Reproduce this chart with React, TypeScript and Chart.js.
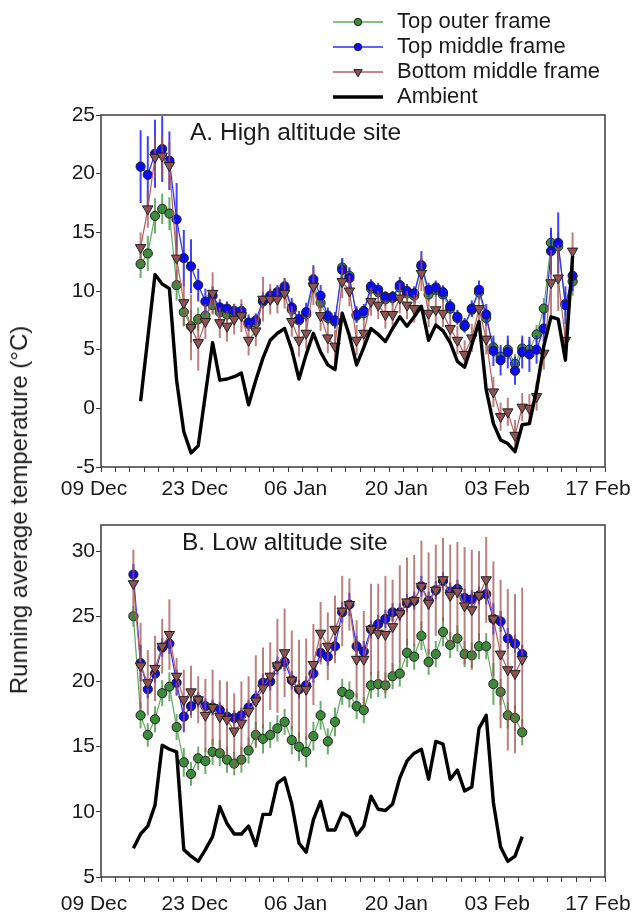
import React, { useEffect, useRef } from 'react';
import { Chart, registerables } from 'chart.js';

Chart.register(...registerables);

const FONT = 'Arial, "Liberation Sans", Helvetica, sans-serif';

// ---- x axis: days counted from 09 Dec ----
const X_TICK_LABELS = ['09 Dec', '23 Dec', '06 Jan', '20 Jan', '03 Feb', '17 Feb'];
const X_MIN = 0;
const X_MAX = 70;
const X_STEP = 2;
const X_LABEL_EVERY = 14;

const SERIES_NAMES = ['Top outer frame', 'Top middle frame', 'Bottom middle frame', 'Ambient'];
const Y_TITLE = 'Running average temperature (°C)';

// ---- Panel A: high altitude site (daily, first day = 14 Dec) ----
const A_TITLE = 'A. High altitude site';
const A_FIRST_DAY = 5.5;
const A_Y_MIN = -5;
const A_Y_MAX = 25;
const A_Y_STEP = 5;

const greenA = [12.3, 13.2, 16.4, 17.0, 16.6, 10.5, 8.2, 7.0, 7.6, 7.9, 8.8, 8.2, 8.0, 8.1, 8.0, 7.2, 7.3, 9.1, 9.4, 9.7, 10.2, 8.4, 7.5, 8.0, 10.6, 9.0, 7.7, 7.4, 12.0, 11.3, 7.9, 8.1, 10.2, 9.9, 9.3, 9.4, 10.3, 9.8, 9.6, 12.1, 9.7, 10.1, 9.7, 8.5, 7.7, 7.0, 8.4, 9.9, 7.7, 5.2, 4.4, 5.0, 3.8, 5.1, 5.0, 6.3, 8.5, 14.1, 13.8, 8.9, 10.8];
const blueA = [20.6, 19.9, 21.7, 22.1, 21.1, 16.1, 12.8, 12.1, 10.5, 9.1, 9.6, 8.6, 8.5, 8.3, 8.3, 7.3, 7.5, 9.2, 9.6, 9.9, 10.4, 8.6, 7.6, 8.2, 11.0, 9.6, 7.9, 7.5, 11.8, 11.1, 8.0, 8.3, 10.4, 10.1, 9.5, 9.5, 10.5, 10.0, 9.8, 12.2, 10.1, 10.3, 9.9, 8.7, 7.8, 7.1, 8.5, 10.1, 8.0, 4.9, 4.1, 4.8, 3.2, 4.8, 4.6, 5.0, 6.8, 13.4, 14.1, 8.8, 11.3];
const brownA = [13.7, 17.0, 21.4, 21.5, 20.7, 12.8, 9.0, 6.9, 5.6, 7.4, 9.8, 7.3, 7.0, 7.6, 7.9, 5.8, 6.6, 9.3, 9.3, 9.3, 9.8, 7.4, 5.8, 6.4, 10.4, 7.9, 6.0, 5.3, 10.8, 10.0, 5.8, 6.4, 9.1, 8.8, 8.0, 8.0, 9.4, 8.8, 8.5, 11.5, 8.1, 8.4, 8.1, 6.8, 5.8, 4.6, 6.0, 8.5, 5.9, 1.4, -0.7, -0.3, -2.3, 0.1, 0.0, 1.0, 4.7, 10.7, 11.1, 5.8, 13.4];
const ambientA = [0.6, 6.0, 11.4, 10.6, 10.2, 2.4, -2.0, -3.8, -3.2, 1.2, 5.6, 2.4, 2.5, 2.7, 3.0, 0.3, 2.4, 4.3, 5.8, 6.4, 6.8, 5.0, 2.5, 4.6, 6.4, 4.8, 3.7, 3.3, 8.1, 6.2, 3.7, 5.2, 6.8, 6.3, 5.7, 6.8, 7.8, 7.0, 7.8, 8.7, 5.8, 7.1, 6.6, 5.6, 4.0, 3.5, 5.4, 7.4, 1.6, -1.3, -2.7, -3.0, -3.7, -1.4, -1.3, 1.6, 5.3, 7.8, 7.6, 4.1, 13.0];
const greenErrA = [1.2, 1.5, 1.5, 1.3, 1.4, 1.3, 1.2, 1.4, 1.0, 0.8, 0.7, 0.6, 0.6, 0.6, 0.6, 0.6, 0.6, 0.6, 0.6, 0.6, 0.6, 0.7, 0.6, 0.6, 0.8, 0.7, 0.6, 0.6, 0.8, 0.7, 0.6, 0.6, 0.6, 0.6, 0.6, 0.6, 0.6, 0.6, 0.6, 0.7, 0.6, 0.6, 0.6, 0.6, 0.6, 0.6, 0.6, 0.6, 0.7, 0.8, 0.8, 0.8, 0.8, 0.8, 0.8, 0.8, 0.9, 1.1, 1.1, 1.0, 1.2];
const blueErrA = [3.1, 3.3, 2.9, 2.8, 2.5, 3.1, 2.4, 2.3, 1.4, 1.1, 0.8, 0.7, 0.6, 0.6, 0.6, 0.7, 0.6, 0.7, 0.6, 0.6, 0.7, 0.8, 0.7, 0.8, 1.2, 0.9, 0.7, 0.7, 1.0, 0.9, 0.7, 0.6, 0.6, 0.6, 0.5, 0.5, 0.7, 0.6, 0.6, 1.2, 0.6, 0.6, 0.6, 0.6, 0.6, 0.6, 0.7, 0.8, 0.9, 1.3, 1.3, 1.4, 1.2, 1.4, 1.5, 1.2, 1.3, 2.0, 2.6, 1.6, 1.3];
const brownErrA = [1.3, 1.6, 1.8, 1.8, 2.0, 2.3, 2.0, 2.8, 2.4, 1.5, 1.8, 1.3, 1.3, 1.3, 1.4, 1.3, 1.3, 1.9, 1.3, 1.2, 1.3, 1.3, 1.4, 1.3, 1.6, 1.3, 1.3, 1.4, 1.4, 1.3, 1.3, 1.2, 1.2, 1.2, 1.2, 1.2, 1.3, 1.2, 1.2, 1.5, 1.2, 1.2, 1.2, 1.2, 1.2, 1.2, 1.2, 1.2, 1.3, 1.3, 1.2, 1.2, 1.3, 1.2, 1.2, 1.2, 1.4, 2.8, 2.8, 1.5, 1.6];

// ---- Panel B: low altitude site (daily, first day = 13 Dec) ----
const B_TITLE = 'B. Low altitude site';
const B_FIRST_DAY = 4.5;
const B_Y_MIN = 5;
const B_Y_MAX = 32;
const B_Y_STEP = 5;

const greenB = [25.0, 17.4, 15.9, 17.1, 19.1, 19.6, 16.5, 13.8, 12.9, 14.1, 13.9, 14.6, 14.5, 14.0, 13.7, 14.0, 14.7, 15.9, 15.6, 15.9, 16.4, 16.9, 15.5, 15.0, 14.6, 15.8, 17.4, 15.4, 16.9, 19.2, 19.0, 18.1, 17.8, 19.7, 19.8, 19.7, 20.4, 20.6, 22.2, 21.9, 23.5, 21.5, 22.1, 23.8, 22.8, 23.3, 22.1, 22.0, 22.7, 22.7, 19.8, 19.2, 17.4, 17.2, 16.1];
const blueB = [28.2, 21.4, 19.4, 20.6, 22.6, 22.9, 19.9, 17.3, 18.1, 18.6, 18.1, 18.0, 17.8, 17.3, 17.2, 17.4, 18.0, 18.7, 19.9, 20.0, 21.2, 21.5, 20.1, 19.4, 19.7, 20.6, 22.2, 21.9, 22.7, 25.3, 25.9, 22.7, 22.3, 24.0, 24.4, 24.8, 25.3, 25.3, 26.0, 26.2, 27.3, 26.2, 27.0, 27.7, 26.9, 27.1, 26.4, 26.3, 26.6, 26.7, 24.8, 24.6, 23.3, 22.9, 22.1];
const brownB = [27.5, 21.2, 19.9, 21.0, 22.7, 23.6, 20.4, 18.6, 19.2, 18.6, 17.4, 18.0, 17.3, 17.1, 16.2, 16.8, 17.7, 18.5, 19.5, 20.4, 21.2, 22.2, 20.1, 19.4, 19.4, 21.3, 23.7, 22.7, 24.0, 25.4, 25.9, 21.7, 21.7, 24.0, 23.7, 23.6, 24.2, 25.2, 26.1, 26.2, 27.3, 26.0, 27.0, 27.8, 26.6, 26.9, 25.8, 25.5, 26.6, 27.8, 24.8, 22.1, 20.9, 20.6, 21.7];
const ambientB = [7.2, 8.3, 8.9, 10.5, 15.1, 14.8, 14.6, 7.1, 6.6, 6.2, 7.1, 8.1, 10.4, 9.1, 8.3, 8.3, 8.9, 7.4, 9.8, 9.8, 12.2, 12.6, 10.6, 7.6, 6.9, 9.4, 10.8, 8.6, 8.6, 9.9, 9.6, 8.2, 8.9, 11.2, 10.2, 10.1, 10.6, 12.6, 13.9, 14.5, 14.8, 12.5, 15.4, 15.2, 12.5, 13.2, 11.6, 11.9, 16.4, 17.4, 10.7, 7.3, 6.2, 6.6, 8.1];
const greenErrB = [0.8, 1.0, 0.9, 1.0, 1.0, 1.1, 1.0, 1.1, 0.9, 0.9, 1.0, 1.0, 1.0, 1.0, 0.9, 1.0, 1.0, 1.0, 1.1, 1.0, 1.0, 1.0, 1.1, 1.1, 1.2, 1.1, 1.1, 1.0, 1.1, 1.0, 1.0, 1.0, 1.0, 1.0, 1.0, 1.0, 1.0, 1.0, 1.1, 1.0, 1.1, 1.0, 1.0, 1.1, 1.0, 1.0, 1.0, 1.0, 1.0, 1.0, 1.6, 1.0, 1.0, 1.0, 1.0];
const blueErrB = [0.8, 1.4, 0.7, 0.7, 0.7, 0.8, 1.0, 1.2, 0.7, 0.6, 0.6, 0.6, 0.6, 0.6, 0.6, 0.6, 0.6, 0.6, 0.7, 0.7, 0.7, 0.7, 0.7, 0.7, 0.7, 0.7, 0.7, 0.7, 0.7, 0.8, 0.9, 0.8, 0.8, 0.7, 0.7, 0.7, 0.7, 0.7, 0.7, 0.7, 0.8, 0.7, 0.7, 0.7, 0.7, 0.7, 0.7, 0.7, 0.7, 0.8, 1.2, 0.8, 0.8, 0.7, 0.7];
const brownErrB = [2.6, 3.3, 2.5, 2.5, 2.1, 2.7, 1.4, 2.3, 2.0, 1.8, 2.8, 2.9, 2.8, 2.9, 2.9, 3.2, 2.7, 3.5, 3.1, 2.6, 3.6, 3.4, 3.8, 3.8, 3.9, 3.1, 2.4, 2.6, 2.6, 2.7, 2.0, 3.0, 3.7, 3.5, 3.8, 4.5, 3.6, 3.7, 3.4, 3.5, 3.5, 3.9, 3.5, 3.2, 3.9, 3.8, 4.5, 4.6, 3.4, 3.3, 4.4, 5.7, 6.2, 6.1, 5.5];

// ---- styles ----
const GREEN_LINE = '#62a862';
const GREEN_FILL = '#3b8b3b';
const GREEN_ERR = 'rgba(70,150,70,0.8)';
const BLUE_LINE = '#2b2bff';
const BLUE_FILL = '#0a0af5';
const BLUE_ERR = 'rgba(30,30,255,0.85)';
const BROWN_LINE = '#b45f5f';
const BROWN_FILL = '#8e5252';
const BROWN_ERR = 'rgba(160,80,80,0.72)';
const MARKER_BORDER = '#1f1f1f';
const TEXT = '#1a1a1a';
const AXIS = '#3c3c3c';

const pts = (first: number, vals: number[]) => vals.map((v, i) => ({ x: first + i, y: v }));

const errorBarPlugin = {
  id: 'errorBars',
  beforeDatasetDraw(chart: any, args: any) {
    const ds = chart.data.datasets[args.index];
    if (!ds.errors) return;
    const { ctx, scales, chartArea } = chart;
    ctx.save();
    ctx.beginPath();
    ctx.rect(chartArea.left, chartArea.top, chartArea.right - chartArea.left, chartArea.bottom - chartArea.top);
    ctx.clip();
    ctx.strokeStyle = ds.errorColor;
    ctx.lineWidth = 2;
    ds.data.forEach((p: any, i: number) => {
      const e = ds.errors[i];
      const x = scales.x.getPixelForValue(p.x);
      ctx.beginPath();
      ctx.moveTo(x, scales.y.getPixelForValue(p.y - e));
      ctx.lineTo(x, scales.y.getPixelForValue(p.y + e));
      ctx.stroke();
    });
    ctx.restore();
  },
};

function drawMarker(ctx: CanvasRenderingContext2D, kind: string, x: number, y: number, r: number, fill: string) {
  ctx.beginPath();
  if (kind === 'circle') {
    ctx.arc(x, y, r, 0, Math.PI * 2);
  } else {
    ctx.moveTo(x - r * 0.87, y - r * 0.5);
    ctx.lineTo(x + r * 0.87, y - r * 0.5);
    ctx.lineTo(x, y + r);
    ctx.closePath();
  }
  ctx.fillStyle = fill;
  ctx.fill();
  ctx.lineWidth = 1;
  ctx.strokeStyle = MARKER_BORDER;
  ctx.stroke();
}

const decoPlugin = {
  id: 'deco',
  afterDraw(chart: any, _args: any, opts: any) {
    const { ctx, chartArea: ca } = chart;
    ctx.save();
    ctx.strokeStyle = AXIS;
    ctx.lineWidth = 1.5;
    ctx.strokeRect(ca.left, ca.top, ca.right - ca.left, ca.bottom - ca.top);
    ctx.fillStyle = TEXT;
    ctx.textAlign = 'left';
    ctx.textBaseline = 'middle';
    ctx.font = `24.5px ${FONT}`;
    ctx.fillText(opts.title, opts.titleX, opts.titleY);
    if (opts.legend) {
      const rows = [
        { line: GREEN_LINE, w: 1.5, marker: 'circle', fill: GREEN_FILL },
        { line: BLUE_LINE, w: 1.5, marker: 'circle', fill: BLUE_FILL },
        { line: BROWN_LINE, w: 1.5, marker: 'tri', fill: BROWN_FILL },
        { line: '#000', w: 3.3, marker: '', fill: '' },
      ];
      rows.forEach((r, i) => {
        const y = 22 + i * 25;
        ctx.beginPath();
        ctx.strokeStyle = r.line;
        ctx.lineWidth = r.w;
        ctx.moveTo(333, y);
        ctx.lineTo(383, y);
        ctx.stroke();
        if (r.marker) drawMarker(ctx, r.marker, 358, y, r.marker === 'circle' ? 3.7 : 4.8, r.fill);
        ctx.fillStyle = TEXT;
        ctx.font = `22px ${FONT}`;
        ctx.fillText(SERIES_NAMES[i], 397, y);
      });
    }
    ctx.restore();
  },
};

function buildConfig(p: any): any {
  const tickFont = { family: FONT, size: 21 };
  return {
    type: 'line',
    data: {
      datasets: [
        {
          label: SERIES_NAMES[3], data: pts(p.first, p.ambient), borderColor: '#000', borderWidth: 3.4,
          pointRadius: 0, fill: false, tension: 0, borderJoinStyle: 'round',
        },
        {
          label: SERIES_NAMES[2], data: pts(p.first, p.brown), borderColor: BROWN_LINE, borderWidth: 1.2,
          pointStyle: 'triangle', rotation: 180, pointRadius: 6, pointBackgroundColor: BROWN_FILL,
          pointBorderColor: MARKER_BORDER, pointBorderWidth: 1, errors: p.brownErr, errorColor: BROWN_ERR,
        },
        {
          label: SERIES_NAMES[1], data: pts(p.first, p.blue), borderColor: BLUE_LINE, borderWidth: 1.2,
          pointStyle: 'circle', pointRadius: 4.6, pointBackgroundColor: BLUE_FILL,
          pointBorderColor: MARKER_BORDER, pointBorderWidth: 1, errors: p.blueErr, errorColor: BLUE_ERR,
        },
        {
          label: SERIES_NAMES[0], data: pts(p.first, p.green), borderColor: GREEN_LINE, borderWidth: 1.2,
          pointStyle: 'circle', pointRadius: 4.6, pointBackgroundColor: GREEN_FILL,
          pointBorderColor: MARKER_BORDER, pointBorderWidth: 1, errors: p.greenErr, errorColor: GREEN_ERR,
        },
      ],
    },
    options: {
      responsive: false,
      animation: false,
      devicePixelRatio: 1,
      layout: { padding: { top: p.padTop, right: 30, bottom: 0, left: 0 } },
      plugins: {
        legend: { display: false },
        tooltip: { enabled: false },
        deco: { title: p.title, titleX: p.titleX, titleY: p.titleY, legend: p.legend },
      },
      scales: {
        x: {
          type: 'linear', min: X_MIN, max: X_MAX,
          afterFit: (s: any) => { s.height = p.xAxisH; s.paddingLeft = 0; s.paddingRight = 0; },
          border: { display: false },
          grid: { drawOnChartArea: false, drawTicks: true, tickLength: 5, color: AXIS, lineWidth: 1 },
          ticks: {
            stepSize: X_STEP, autoSkip: false, maxRotation: 0, minRotation: 0, padding: p.xPad,
            labelOffset: -7, color: TEXT, font: tickFont,
            callback: (v: number) => (v % X_LABEL_EVERY === 0 ? X_TICK_LABELS[v / X_LABEL_EVERY] : ''),
          },
        },
        y: {
          type: 'linear', min: p.yMin, max: p.yMax,
          afterFit: (s: any) => { s.width = 101; },
          border: { display: false },
          grid: { drawOnChartArea: false, drawTicks: true, tickLength: 5, color: AXIS, lineWidth: 1 },
          ticks: { stepSize: p.yStep, includeBounds: false, padding: 1, color: TEXT, font: tickFont },
        },
      },
    },
    plugins: [errorBarPlugin, decoPlugin],
  };
}

const panelA = {
  first: A_FIRST_DAY, green: greenA, blue: blueA, brown: brownA, ambient: ambientA,
  greenErr: greenErrA, blueErr: blueErrA, brownErr: brownErrA,
  yMin: A_Y_MIN, yMax: A_Y_MAX, yStep: A_Y_STEP, title: A_TITLE, titleX: 190, titleY: 133,
  legend: true, padTop: 115, xAxisH: 38, xPad: 5,
};
const panelB = {
  first: B_FIRST_DAY, green: greenB, blue: blueB, brown: brownB, ambient: ambientB,
  greenErr: greenErrB, blueErr: blueErrB, brownErr: brownErrB,
  yMin: B_Y_MIN, yMax: B_Y_MAX, yStep: B_Y_STEP, title: B_TITLE, titleX: 182, titleY: 38,
  legend: false, padTop: 20, xAxisH: 40, xPad: 10,
};

export default function App() {
  const refA = useRef<HTMLCanvasElement>(null);
  const refB = useRef<HTMLCanvasElement>(null);
  useEffect(() => {
    const a = new Chart(refA.current as HTMLCanvasElement, buildConfig(panelA));
    const b = new Chart(refB.current as HTMLCanvasElement, buildConfig(panelB));
    return () => {
      a.destroy();
      b.destroy();
    };
  }, []);
  return (
    <div style={{ position: 'absolute', left: 0, top: 0, width: 635, height: 917, background: '#fff', overflow: 'hidden' }}>
      <canvas ref={refA} width={635} height={505} style={{ position: 'absolute', left: 0, top: 0 }} />
      <canvas ref={refB} width={635} height={412} style={{ position: 'absolute', left: 0, top: 505 }} />
      <div
        style={{
          position: 'absolute', left: 19, top: 510, transform: 'translate(-50%, -50%) rotate(-90deg)',
          whiteSpace: 'nowrap', fontFamily: FONT, fontSize: 24, color: TEXT, lineHeight: 1,
        }}
      >
        {Y_TITLE}
      </div>
    </div>
  );
}
